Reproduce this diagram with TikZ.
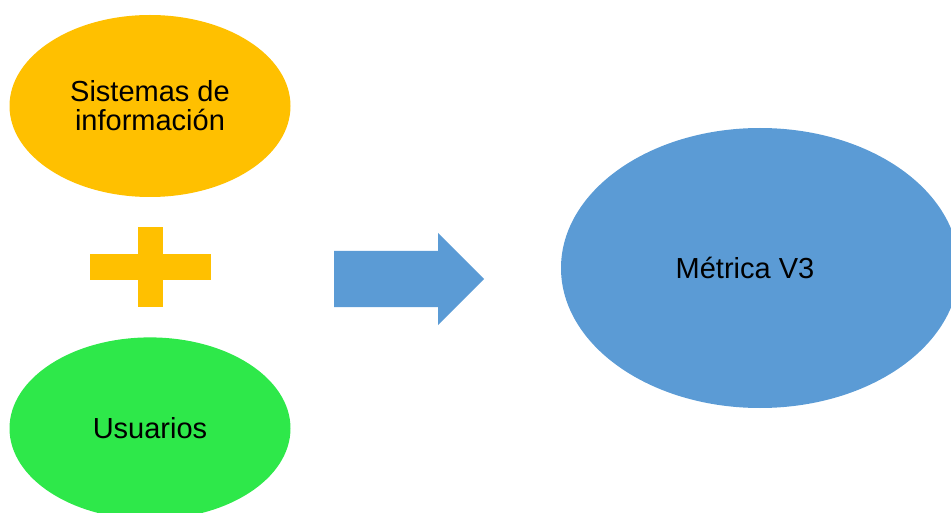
\documentclass[tikz,border=0pt]{standalone}
\usepackage{fontspec}
\setmainfont{Liberation Sans}
\usepackage{tikz}
\usetikzlibrary{shapes.geometric, positioning, calc}

\definecolor{sysorange}{HTML}{FFC000}
\definecolor{usrgreen}{HTML}{2EE84A}
\definecolor{metblue}{HTML}{5B9BD5}

\begin{document}
\begin{tikzpicture}[x=1pt,y=-1pt,
    blob/.style={ellipse,inner sep=0pt,align=center,font=\fontsize{29}{29}\selectfont},
    bar/.style={fill=sysorange,inner sep=0pt}]
    \useasboundingbox (0,0) rectangle (951,513);
    \clip (0,0) rectangle (951,513);

    \node[blob,fill=sysorange,minimum width=281pt,minimum height=182pt] (sis) at (150,106) {Sistemas de\\información};
    \node[blob,fill=usrgreen,minimum width=281pt,minimum height=182pt] (usr) [below=140pt of sis] {Usuarios};
    \node[blob,fill=metblue,minimum width=398pt,minimum height=280pt] (met) at (760,268) {};
    \node[blob] (metlabel) at ([xshift=-15pt]met.center) {Métrica V3};

    % plus sign
    \coordinate (plus) at ($(sis.south)!0.5!(usr.north)$);
    \node[bar,minimum width=121pt,minimum height=26pt] (plush) at (plus) {};
    \node[bar,minimum width=25pt,minimum height=80pt] (plusv) at (plus) {};

    % block arrow
    \fill[metblue] (334,251) -- (438,251) -- (438,233) -- (484,279)
        -- (438,325) -- (438,307) -- (334,307) -- cycle;
\end{tikzpicture}
\end{document}
